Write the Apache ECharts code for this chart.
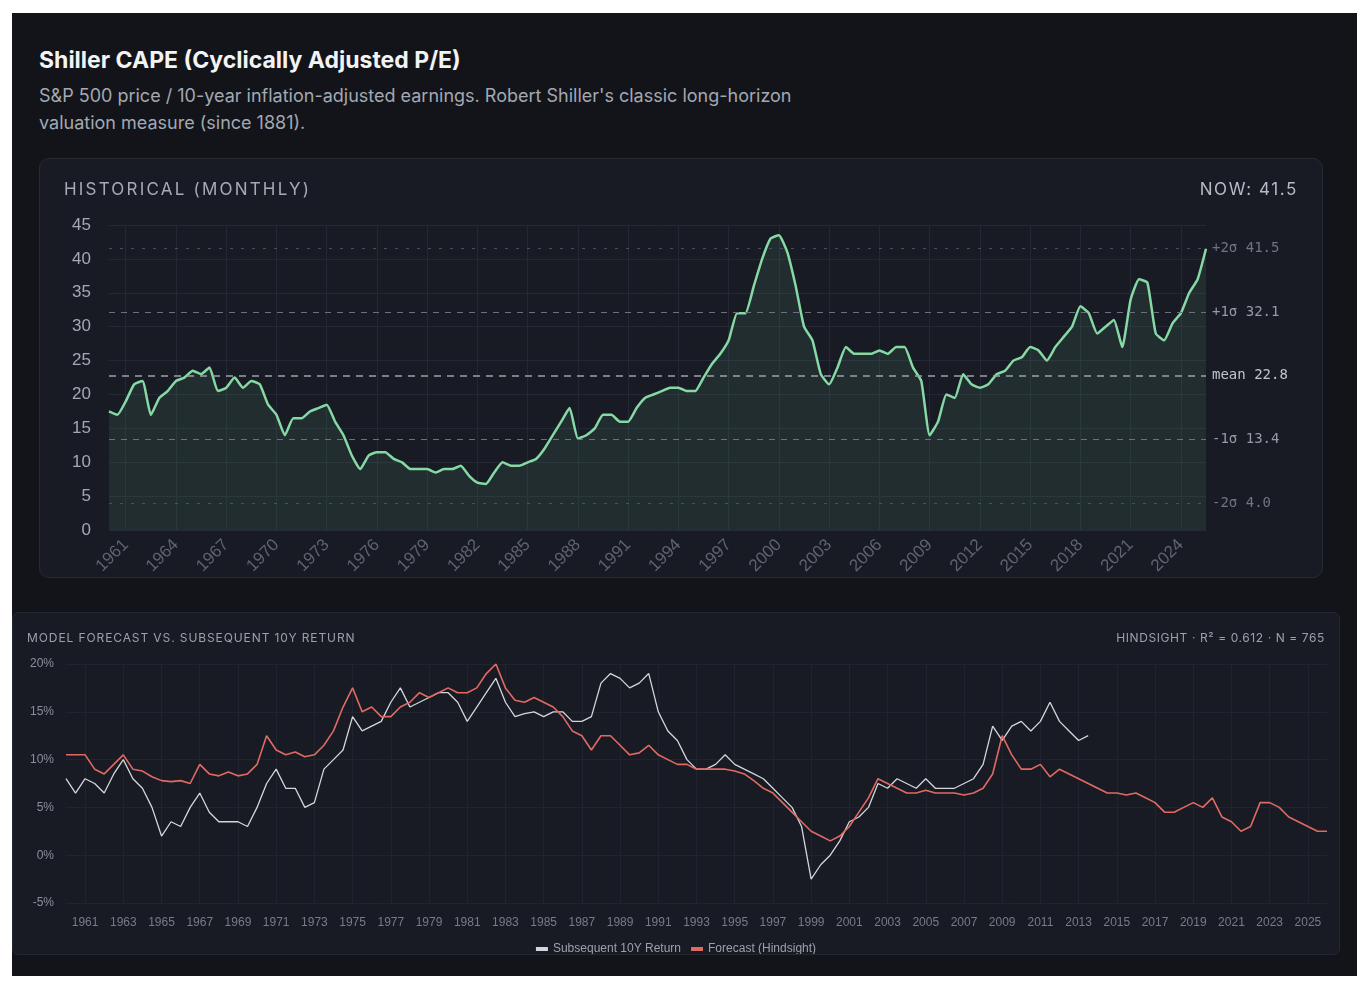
<!DOCTYPE html>
<html><head><meta charset="utf-8">
<script src="https://cdn.jsdelivr.net/npm/echarts@6/dist/echarts.min.js"></script>
<style>
body{margin:0;background:#fff;font-family:Inter,"Noto Sans",sans-serif;}
#card{position:absolute;left:12px;top:13px;width:1345px;height:963px;background:#121419;}
#t1{position:absolute;left:27px;top:33px;color:#f2f3f5;font-size:23px;font-weight:700;}
#t2{position:absolute;left:27px;top:69px;width:830px;color:#a3a8b3;font-size:18px;line-height:27px;}
#p1{position:absolute;left:27px;top:145px;width:1284px;height:420px;background:#181b24;border:1px solid #262a35;border-radius:10px;box-sizing:border-box;}
#p2{position:absolute;left:0px;top:599px;width:1328px;height:343px;background:#181b24;border:1px solid #232732;border-radius:6px;box-sizing:border-box;}
#c1,#c2{position:absolute;left:0;top:0;width:100%;height:100%;}
.lab{position:absolute;z-index:2;color:#a5abb6;white-space:nowrap;}
</style></head><body>
<div id="card">
<div id="t1">Shiller CAPE (Cyclically Adjusted P/E)</div>
<div id="t2">S&amp;P 500 price / 10-year inflation-adjusted earnings. Robert Shiller's classic long-horizon valuation measure (since 1881).</div>
<div id="p1"><div id="c1"></div>
<div class="lab" style="left:24px;top:20px;font-size:17px;letter-spacing:2.2px;">HISTORICAL (MONTHLY)</div>
<div class="lab" id="now" style="right:24px;top:20px;font-size:17px;letter-spacing:1.6px;color:#b5bac3;"></div></div>
<div id="p2"><div id="c2"></div>
<div class="lab" style="left:14px;top:17px;font-size:12px;letter-spacing:0.9px;color:#9ba1ab;">MODEL FORECAST VS. SUBSEQUENT 10Y RETURN</div>
<div class="lab" style="right:14px;top:17px;font-size:12px;letter-spacing:0.6px;color:#9ba1ab;">HINDSIGHT · R² = 0.612 · N = 765</div></div>
</div>
<script>
const capeStart = 1960;
const cape = [17.5,17,19,21.5,22,17,19.5,20.5,22,22.5,23.5,23,24,20.5,21,22.5,21,22,21.5,18.5,
17,14,16.5,16.5,17.5,18,18.5,16,14,11,9,11,11.5,11.5,10.5,10,9,9,9,8.5,
9,9,9.5,8,7,6.8,8.5,10,9.5,9.5,10,10.5,12,14,16,18,13.5,14,15,17,
17,16,16,18,19.5,20,20.5,21,21,20.5,20.5,22.5,24.5,26,28,32,32,36,40,43,
43.5,41,36,30,28,23,21.5,24,27,26,26,26,26.5,26,27,27,24,22,14,16,
20,19.5,23,21.5,21,21.5,23,23.5,25,25.5,27,26.5,25,27,28.5,30,33,32,29,30,
31,27,34,37,36.5,29,28,30.5,32,35,37,41.5];
const statLevels = [41.5,32.1,22.8,13.4,4.0];
const statNames = ['+2σ','+1σ','mean','-1σ','-2σ'];
const yTicks1 = [0,5,10,15,20,25,30,35,40,45];

const retStart = 1960;
const forecast = [10.5,10.5,10.5,9,8.5,9.5,10.5,9,8.8,8.2,7.8,7.7,7.8,7.5,9.5,8.5,8.3,8.7,8.3,8.5,
9.5,12.5,11,10.5,10.8,10.3,10.5,11.5,13,15.5,17.5,15,15.5,14.5,14.5,15.5,16,17,16.5,17,
17.5,17,17,17.5,19,20,17.5,16.2,16,16.5,16,15.5,14.5,13,12.5,11,12.5,12.5,11.5,10.5,
10.7,11.5,10.5,10,9.5,9.5,9,9,9,9,8.8,8.5,7.8,7,6.5,5.5,4.5,3.5,2.5,2,
1.5,2,3,4.5,6,8,7.5,7,6.5,6.5,6.8,6.5,6.5,6.5,6.3,6.5,7,8.5,12.5,10.5,
9,9,9.5,8.2,9,8.5,8,7.5,7,6.5,6.5,6.3,6.5,6,5.5,4.5,4.5,5,5.5,5,
6,4,3.5,2.5,3,5.5,5.5,5,4,3.5,3,2.5,2.5];
const subsequent = [8,6.5,8,7.5,6.5,8.5,10,8,7,5,2,3.5,3,5,6.5,4.5,3.5,3.5,3.5,3,
5,7.5,9,7,7,5,5.5,9,10,11,14.5,13,13.5,14,16,17.5,15.5,16,16.5,17,
17,16,14,15.5,17,18.5,16,14.5,14.8,15,14.5,15,15,14,14,14.5,18,19,18.5,17.5,
18,19,15,13,12,10,9,9,9.5,10.5,9.5,9,8.5,8,7,6,5,3,-2.5,-1,
0,1.5,3.5,4,5,7.5,7,8,7.5,7,8,7,7,7,7.5,8,9.5,13.5,12,13.5,
14,13,14,16,14,13,12,12.5];
const yTicks2 = [-5,0,5,10,15,20];

document.getElementById('now').textContent = 'NOW: ' + cape[cape.length-1];
const cats1 = cape.map((v,i)=>String(capeStart+i/2));
const cats2 = forecast.map((v,i)=>String(retStart+i/2));

const c1 = echarts.init(document.getElementById('c1'));
c1.setOption({
  animation:false,
  grid:{left:69,top:66,width:1097,height:306},
  xAxis:{type:'category',data:cats1,boundaryGap:false,
    axisLine:{show:false},axisTick:{show:false},
    splitLine:{show:true,interval:(i,v)=>{const y=+v;return Number.isInteger(y)&&(y-1961)%3===0;},lineStyle:{color:'#232836'}},
    axisLabel:{rotate:45,color:'#5d6370',fontSize:17,margin:12,
      interval:(i,v)=>{const y=+v;return Number.isInteger(y)&&(y-1961)%3===0;},
      formatter:v=>String(+v)}},
  yAxis:{type:'value',min:0,max:45,interval:5,
    axisLabel:{color:'#a3a9b4',fontSize:17,margin:18,formatter:v=>yTicks1.includes(v)?String(v):''},
    splitLine:{lineStyle:{color:'#232836'}}},
  series:[{type:'line',data:cape,showSymbol:false,smooth:0.15,
    lineStyle:{color:'#86d9a4',width:2.5},
    areaStyle:{color:'rgba(110,190,140,0.17)'},
    markLine:{symbol:'none',silent:true,
      data:statLevels.map((v,i)=>({yAxis:v,name:statNames[i],
        lineStyle:{type:i===2?[7,6]:(i===0||i===4?[3,8]:[6,6]),color:i===2?'#9ba1ab':(i===0||i===4?'#4a505c':'#6c727d'),width:i===2?1.5:1},
        label:{formatter:statNames[i]+' '+v.toFixed(1),position:'end',distance:6,fontFamily:'DejaVu Sans Mono',fontSize:14,color:i===2?'#c0c5cd':(i===0||i===4?'#6f7580':'#959ba5')}}))}
  }]
});

const c2 = echarts.init(document.getElementById('c2'));
c2.setOption({
  animation:false,
  legend:{bottom:-6,left:'center',icon:'rect',itemWidth:12,itemHeight:4,itemGap:10,textStyle:{color:'#9ba1ab',fontSize:12},
    data:['Subsequent 10Y Return','Forecast (Hindsight)']},
  grid:{left:53,top:51,width:1261,height:239},
  xAxis:{type:'category',data:cats2,boundaryGap:false,
    axisLine:{show:false},axisTick:{show:false},
    splitLine:{show:true,interval:(i,v)=>{const y=+v;return Number.isInteger(y)&&(y-1961)%2===0;},lineStyle:{color:'#20242f'}},
    axisLabel:{color:'#767c87',fontSize:12,margin:14,
      interval:(i,v)=>{const y=+v;return Number.isInteger(y)&&(y-1961)%2===0;},
      formatter:v=>String(+v)}},
  yAxis:{type:'value',min:-5,max:20,interval:5,
    axisLabel:{color:'#8a909a',fontSize:12,margin:12,formatter:v=>yTicks2.includes(v)?v+'%':''},
    splitLine:{lineStyle:{color:'#20242f'}}},
  series:[
    {name:'Subsequent 10Y Return',type:'line',data:subsequent,showSymbol:false,lineStyle:{color:'#d3d6dc',width:1.3},itemStyle:{color:'#d3d6dc'}},
    {name:'Forecast (Hindsight)',type:'line',data:forecast,showSymbol:false,lineStyle:{color:'#e06a62',width:1.6},itemStyle:{color:'#e06a62'}}
  ]
});
</script></body></html>
